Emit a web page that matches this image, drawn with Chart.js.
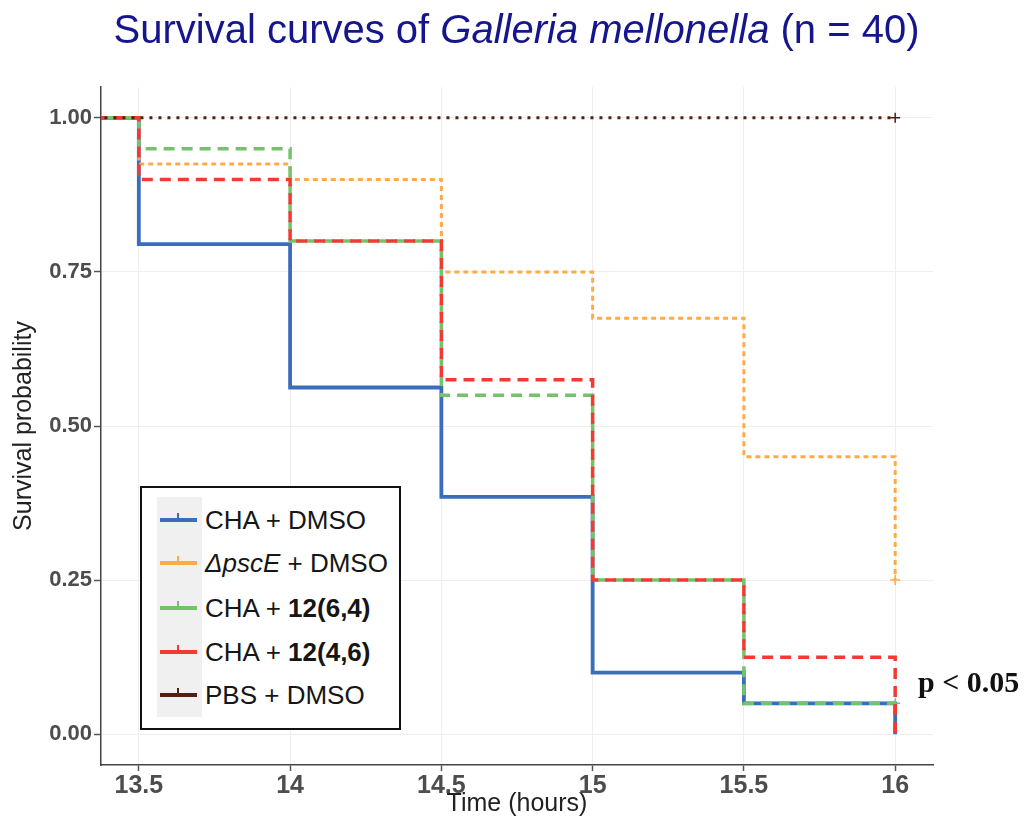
<!DOCTYPE html>
<html>
<head>
<meta charset="utf-8">
<script src="https://cdn.jsdelivr.net/npm/chart.js@4.4.1/dist/chart.umd.min.js"></script>
<style>
html,body{margin:0;padding:0;background:#fff;}
#wrap{position:relative;width:1026px;height:818px;overflow:hidden;background:#fff;}
#c{position:absolute;left:0;top:0;}
#title{position:absolute;left:0;top:9px;width:1033px;text-align:center;white-space:nowrap;
  font-family:"Liberation Sans",Arial,sans-serif;font-size:40px;line-height:40px;color:#15158c;}
#legend{position:absolute;left:140px;top:486px;width:261px;height:244px;box-sizing:border-box;
  border:2px solid #111;background:#fff;}
#legcol{position:absolute;left:15px;top:9px;width:45px;height:220px;background:#f0f0f0;}
.row{position:absolute;left:0;height:30px;width:255px;}
.sample{position:absolute;left:18px;top:13px;width:37px;height:4px;}
.sample i{position:absolute;left:17px;top:-5px;width:2px;height:5px;background:inherit;}
.txt{position:absolute;left:63px;top:0;line-height:30px;font-family:"Liberation Sans",Arial,sans-serif;
  font-size:26px;color:#161616;white-space:nowrap;}
#pval{position:absolute;left:918px;top:666px;font-family:"Liberation Serif","Times New Roman",serif;
  font-weight:bold;font-size:30px;line-height:32px;color:#111;white-space:nowrap;}
</style>
</head>
<body>
<div id="wrap">
  <canvas id="c" width="1026" height="818"></canvas>
  <div id="title">Survival curves of <i>Galleria mellonella</i> (n = 40)</div>
  <div id="legend"><div id="legcol"></div></div>
  <div id="pval">p &lt; 0.05</div>
</div>
<script>
// ---- data ----
const times = [0, 13.5, 14, 14.5, 15, 15.5, 16];
const chaDmso = [1, 0.795, 0.5625, 0.385, 0.10, 0.05, 0];
const pscEDmso = [1, 0.925, 0.90, 0.75, 0.675, 0.45, 0.25];
const cha64 = [1, 0.95, 0.80, 0.55, 0.25, 0.05, 0.05];
const cha46 = [1, 0.90, 0.80, 0.575, 0.25, 0.125, 0];
const pbsDmso = [1, 1, 1, 1, 1, 1, 1];
const xTicks = [13.5, 14, 14.5, 15, 15.5, 16];
const yTicks = [0, 0.25, 0.5, 0.75, 1];
const seriesNames = ['CHA + DMSO', 'ΔpscE + DMSO', 'CHA + 12(6,4)', 'CHA + 12(4,6)', 'PBS + DMSO'];
const seriesColors = ['#3a6ebd', '#ffaa48', '#74c26c', '#f23a30', '#52200f'];

const FAM = '"Liberation Sans", Arial, sans-serif';

function pts(vals){ return times.map((t,i)=>({x:t, y:vals[i]})); }
function ds(i, vals, width, dash, dashOff, censor, order){
  const last = vals.length - 1;
  return {
    label: seriesNames[i], data: pts(vals), stepped: 'before',
    borderColor: seriesColors[i], backgroundColor: seriesColors[i],
    borderWidth: width, borderDash: dash, borderDashOffset: dashOff,
    borderCapStyle: 'butt', fill: false, tension: 0, order: order,
    pointStyle: 'cross', pointBorderColor: seriesColors[i], pointBorderWidth: 1.5,
    pointRadius: c => (censor && c.dataIndex === last) ? 5 : 0,
    pointHoverRadius: 0
  };
}

const datasets = [
  ds(0, chaDmso, 3.8, [], 0, false, 5),
  ds(1, pscEDmso, 3, [5, 4], 0, true, 4),
  ds(2, cha64, 3.5, [11, 7], 0, true, 3),
  ds(3, cha46, 3.5, [11, 7], 9, false, 2),
  ds(4, pbsDmso, 3, [3, 6], 0, true, 1)
];

new Chart(document.getElementById('c'), {
  type: 'line',
  data: { datasets },
  options: {
    responsive: false, animation: false,
    layout: { padding: { top: 87, right: 93, left: 0, bottom: 0 } },
    plugins: { legend: { display: false }, tooltip: { enabled: false }, title: { display: false } },
    scales: {
      x: {
        type: 'linear', min: 13.375, max: 16.125,
        afterBuildTicks: s => { s.ticks = xTicks.map(v => ({ value: v })); },
        afterFit: s => { s.height = 53; },
        ticks: { callback: v => String(v), font: { family: FAM, size: 25, weight: 'bold' },
                 color: '#4d4d4d', padding: 0, maxRotation: 0, autoSkip: false },
        grid: { color: '#eeeeee', lineWidth: 1, tickColor: '#555', tickLength: 6, tickWidth: 1.5 },
        border: { display: true, color: '#444', width: 1.5 },
        title: { display: true, text: 'Time (hours)', color: '#222',
                 font: { family: FAM, size: 25, lineHeight: 1 }, padding: { top: 0, bottom: 1 } }
      },
      y: {
        type: 'linear', min: -0.05, max: 1.05,
        afterBuildTicks: s => { s.ticks = yTicks.map(v => ({ value: v })); },
        afterFit: s => { s.width = 101; },
        ticks: { callback: v => Number(v).toFixed(2), font: { family: FAM, size: 22, weight: 'bold' },
                 color: '#4d4d4d', padding: 2, autoSkip: false },
        grid: { color: '#eeeeee', lineWidth: 1, tickColor: '#555', tickLength: 7, tickWidth: 1.5 },
        border: { display: true, color: '#444', width: 1.5 },
        title: { display: true, text: 'Survival probability', color: '#222',
                 font: { family: FAM, size: 25, lineHeight: 1 }, padding: { top: 12, bottom: 0 } }
      }
    }
  }
});

// ---- legend (HTML, mixed font styles) ----
const legendRowsHtml = [
  'CHA + DMSO',
  '<i>ΔpscE</i> + DMSO',
  'CHA + <b>12(6,4)</b>',
  'CHA + <b>12(4,6)</b>',
  'PBS + DMSO'
];
const rowCenters = [520, 563, 608, 652, 695];
const leg = document.getElementById('legend');
legendRowsHtml.forEach((h, i) => {
  const r = document.createElement('div');
  r.className = 'row';
  r.style.top = (rowCenters[i] - 488 - 15) + 'px';
  r.innerHTML = '<div class="sample" style="background:' + seriesColors[i] + '"><i></i></div>' +
                '<div class="txt">' + h + '</div>';
  leg.appendChild(r);
});
</script>
</body>
</html>
